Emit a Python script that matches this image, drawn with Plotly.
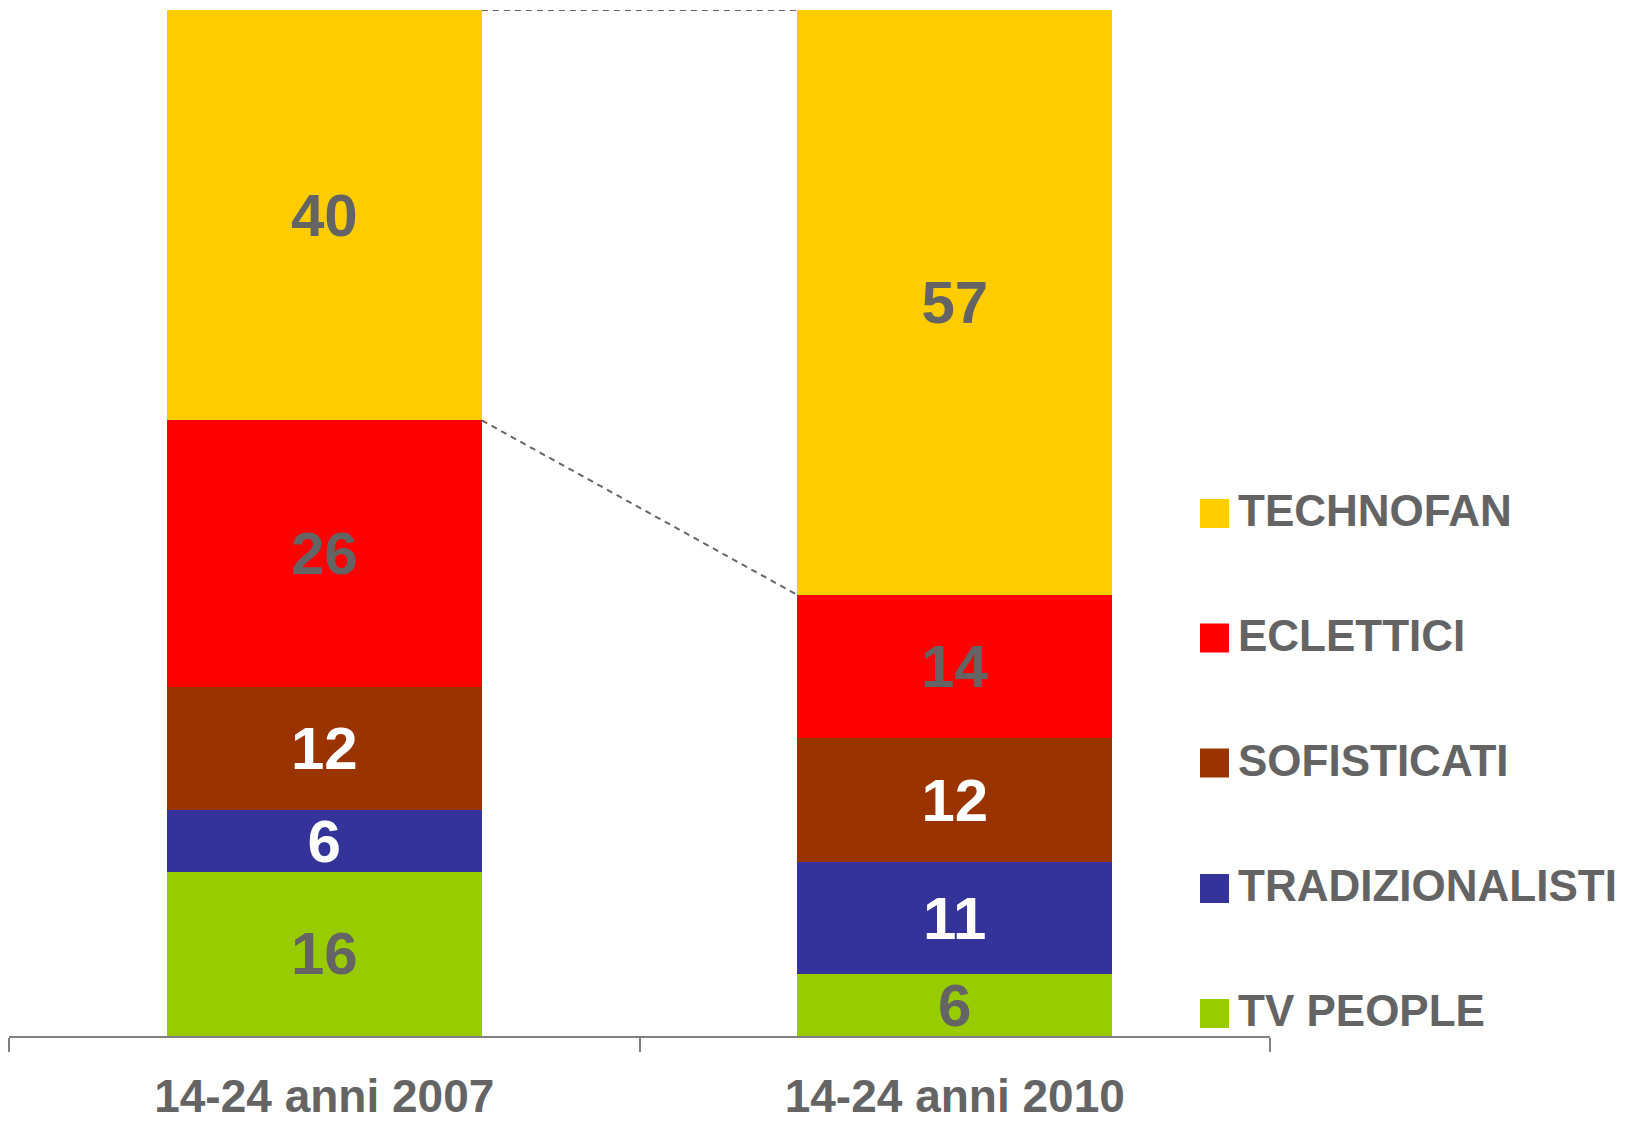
import plotly.graph_objects as go

categories = ["14-24 anni 2007", "14-24 anni 2010"]
series_names = ["TV PEOPLE", "TRADIZIONALISTI", "SOFISTICATI", "ECLETTICI", "TECHNOFAN"]
tv_people = [16, 6]
tradizionalisti = [6, 11]
sofisticati = [12, 12]
eclettici = [26, 14]
technofan = [40, 57]

values = [tv_people, tradizionalisti, sofisticati, eclettici, technofan]
colors = ["#99CC00", "#333399", "#993300", "#FF0000", "#FFCC00"]
label_colors = ["#646464", "#FFFFFF", "#FFFFFF", "#646464", "#646464"]

FONT = "Liberation Sans, Arial, sans-serif"
GRAY = "#646464"

W, H = 1629, 1121
ML, MR, MT, MB = 1, 367, 2, 93

fig = go.Figure()
for name, vals, col, lc in zip(series_names, values, colors, label_colors):
    fig.add_trace(go.Bar(
        x=categories, y=vals, name=name,
        marker=dict(color=col, line=dict(width=0)),
        width=0.5,
        text=[str(v) for v in vals],
        textposition="inside",
        insidetextanchor="middle",
        constraintext="none",
        textangle=0,
        textfont=dict(family=FONT, size=60, color=lc, weight="bold"),
        showlegend=False,
        hoverinfo="skip",
    ))

# connector dashed lines (from left bar right edge to right bar left edge)
totals = [sum(v[i] for v in values) for i in range(2)]
below_top = [totals[i] - technofan[i] for i in range(2)]
for yl, yr in [(totals[0], totals[1]), (below_top[0], below_top[1])]:
    fig.add_shape(type="line", xref="x", yref="y",
                  x0=0.25, x1=0.75, y0=yl, y1=yr,
                  line=dict(color="#666666", width=2, dash="6px,5px"))

# custom legend (top to bottom)
plot_w = W - ML - MR
plot_h = H - MT - MB
legend_order = list(reversed(range(len(series_names))))
legend_centers_px = [505.5, 630, 755, 880.5, 1005.5]
for k, idx in enumerate(legend_order):
    cy = legend_centers_px[k]
    py = (H - MB - cy) / plot_h
    half = 14.5 / plot_h
    x0 = (1192 - ML) / plot_w
    x1 = (1221 - ML) / plot_w
    fig.add_shape(type="rect", xref="paper", yref="paper",
                  x0=x0, x1=x1, y0=py - half, y1=py + half,
                  fillcolor=colors[idx], line=dict(width=0))
    fig.add_annotation(xref="paper", yref="paper",
                       x=(1228 - ML) / plot_w, y=py + 3 / plot_h,
                       xanchor="left", yanchor="middle",
                       text=series_names[idx], showarrow=False,
                       font=dict(family=FONT, size=44, color=GRAY, weight="bold"))

fig.update_layout(
    barmode="stack",
    width=W, height=H,
    margin=dict(l=ML, r=MR, t=MT, b=MB, autoexpand=False),
    paper_bgcolor="white", plot_bgcolor="white",
    xaxis=dict(
        type="category", range=[-0.5, 1.5],
        showline=True, linecolor="#808080", linewidth=2,
        ticks="outside", tickson="boundaries", ticklen=14, tickwidth=2, tickcolor="#808080",
        tickfont=dict(family=FONT, size=46, color=GRAY, weight="bold"),
        ticklabelstandoff=19,
        automargin=False,
        showgrid=False, zeroline=False, fixedrange=True,
    ),
    yaxis=dict(range=[0, 100], visible=False, showgrid=False, zeroline=False,
               fixedrange=True, automargin=False),
    showlegend=False,
)

fig.write_html("out.html")
